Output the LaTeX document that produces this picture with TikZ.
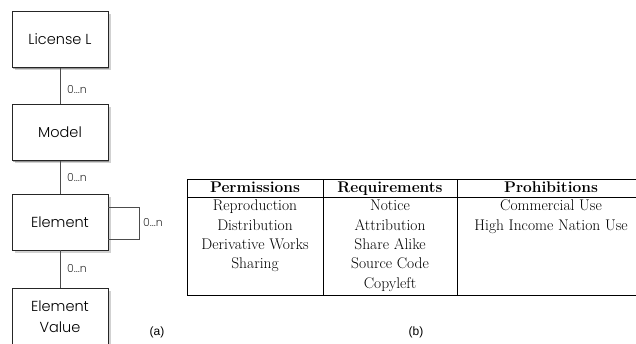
\documentclass[tikz,border=0pt]{standalone}
\usepackage{fontspec}
\IfFontExistsTF{Poppins Light}{\newfontfamily\boxfont{Poppins Light}}{\newfontfamily\boxfont{Poppins}}
\newfontfamily\capfont{Liberation Sans}
\usetikzlibrary{shadows}
\begin{document}
\begin{tikzpicture}[x=1pt,y=-1pt,
  box/.style={draw=black!85, line width=0.8pt, fill=white,
    minimum width=96pt, minimum height=56pt, inner sep=0pt,
    font=\boxfont\fontsize{14.5}{21}\selectfont, align=center,
    drop shadow={shadow xshift=2.5pt, shadow yshift=-2.5pt, opacity=0.18, fill=black},
    drop shadow={shadow xshift=1.2pt, shadow yshift=-1.2pt, opacity=0.3, fill=black}},
  conn/.style={draw=black!70, line width=0.8pt},
  mult/.style={font=\boxfont\fontsize{11}{13}\selectfont, text=black!80, anchor=west, inner sep=0pt},
  tline/.style={line width=0.8pt},
  th/.style={font=\fontsize{15.5}{18}\selectfont\bfseries, anchor=base, inner sep=0pt},
  td/.style={font=\fontsize{15.5}{18}\selectfont, anchor=base, inner sep=0pt},
  subcap/.style={font=\capfont\fontsize{12}{14}\selectfont, inner sep=0pt}]
\useasboundingbox (0,0) rectangle (636,343);
\clip (0,0) rectangle (636,343);

% left diagram
\node[box] (lic) at (60,39.5) {License L};
\node[box] (mod) at (60,132.5) {Model};
\node[box] (ele) at (60,222) {Element};
\node[box, minimum height=57pt] (val) at (60,316.5) {Element\\Value};

\draw[conn] (lic) -- (mod);
\draw[conn] (mod) -- (ele);
\draw[conn] (ele) -- (val);

\node[mult] (m1) at (67,90) {0...n};
\node[mult] (m2) at (67,178) {0...n};
\node[mult] (m3) at (67,269) {0...n};

\coordinate (la) at (139,207);
\coordinate (lb) at (139,239.5);
\draw[conn] (ele.east |- la) -- (la) -- (lb) -- (ele.east |- lb);
\node[mult] (m4) at (143,223) {0...n};

% table
\draw[tline] (187,179) -- (650,179);
\draw[tline] (187,197) -- (650,197);
\draw[tline] (187,295) -- (650,295);
\draw[tline] (187,179) -- (187,295);
\draw[tline] (323,179) -- (323,295);
\draw[tline] (457,179) -- (457,295);
\draw[tline] (645,179) -- (645,295);

\node[th] (h1) at (255,192) {Permissions};
\node[th] (h2) at (390,192) {Requirements};
\node[th] (h3) at (551,192) {Prohibitions};

\node[td] (p1) at (255,210.6) {Reproduction};
\node[td] (p2) at (255,230) {Distribution};
\node[td] (p3) at (255,249.4) {Derivative Works};
\node[td] (p4) at (255,268.8) {Sharing};

\node[td] (r1) at (390,210.6) {Notice};
\node[td] (r2) at (390,230) {Attribution};
\node[td] (r3) at (390,249.4) {Share Alike};
\node[td] (r4) at (390,268.8) {Source Code};
\node[td] (r5) at (390,288.2) {Copyleft};

\node[td] (q1) at (551,210.6) {Commercial Use};
\node[td] (q2) at (551,230) {High Income Nation Use};

\node[subcap] (ca) at (157,332) {(a)};
\node[subcap] (cb) at (416,332) {(b)};
\end{tikzpicture}
\end{document}
